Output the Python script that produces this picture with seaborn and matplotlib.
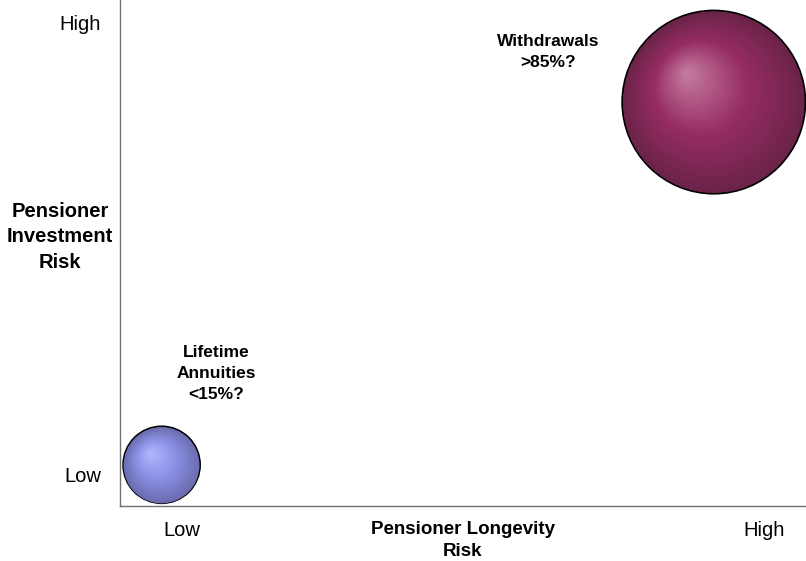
import numpy as np
import pandas as pd
import matplotlib
matplotlib.use("Agg")
import matplotlib.pyplot as plt
from matplotlib.colors import to_rgb
import seaborn as sns

# Retirement income products: longevity risk vs investment risk, bubble = share
products = ["Lifetime\nAnnuities", "Withdrawals"]
share_labels = ["<15%?", ">85%?"]
share = [15, 85]
longevity_risk = [0.72, 8.31]
investment_risk = [1.18, 7.60]
risk_ticks = [1, 9]
risk_tick_labels = ["Low", "High"]

df = pd.DataFrame({"product": products, "share": share,
                   "longevity": longevity_risk, "investment": investment_risk})

# colours: edge, mid ring, highlight
palettes = [
    ["#6a6cae", "#8c90e4", "#b3b7ff"],
    ["#6a2348", "#962c63", "#c47a9f"],
]

sns.set_style("white")
plt.rcParams["font.family"] = ["Liberation Sans", "DejaVu Sans"]
plt.rcParams["text.color"] = "black"
plt.rcParams["axes.labelcolor"] = "black"

DPI = 100
fig = plt.figure(figsize=(8.06, 5.61), dpi=DPI)
ax = fig.add_axes([120 / 806, 55 / 561, 686 / 806, 506 / 561])
ax.set_xlim(0.148, 9.577)
ax.set_ylim(0.451, 9.407)

SIZE_PER_UNIT = 205.0
sns.scatterplot(data=df, x="longevity", y="investment", size="share",
                sizes=(SIZE_PER_UNIT * min(share), SIZE_PER_UNIT * max(share)),
                size_norm=(min(share), max(share)),
                color=palettes[0][0], edgecolor="black", linewidth=1.2,
                legend=False, ax=ax, zorder=3)
# give each bubble its own base colour
coll = ax.collections[0]
coll.set_facecolors([palettes[i][0] for i in range(len(share))])

# pixel scale of the data axes, used to offset the shading highlight
fig.canvas.draw()
px_per_x = ax.transData.transform((1, 0))[0] - ax.transData.transform((0, 0))[0]
px_per_y = ax.transData.transform((0, 1))[1] - ax.transData.transform((0, 0))[1]


def blend(cols, t):
    c0, c1, c2 = [np.array(to_rgb(c)) for c in cols]
    if t < 0.5:
        return c0 + (c1 - c0) * (t / 0.5)
    return c1 + (c2 - c1) * ((t - 0.5) / 0.5)


n_steps = 60
for i, (xv, yv, sv) in enumerate(zip(longevity_risk, investment_risk, share)):
    s_full = SIZE_PER_UNIT * sv
    r_px = np.sqrt(s_full) / 2 * DPI / 72
    hx = -0.30 * r_px / px_per_x
    hy = 0.32 * r_px / px_per_y
    for k in range(1, n_steps):
        t = k / n_steps
        ax.scatter([xv + hx * t], [yv + hy * t], s=s_full * (1 - 0.97 * t) ** 2,
                   color=blend(palettes[i], t), linewidth=0, zorder=4 + k * 0.001)

# bubble captions
offsets = [(39.5, 66), (-119, 36)]
for name, lab, xv, yv, off in zip(products, share_labels, longevity_risk,
                                  investment_risk, offsets):
    ax.annotate(f"{name}\n{lab}", (xv, yv), xytext=off, textcoords="offset points",
                ha="center", va="center", fontsize=12.5, fontweight="bold",
                linespacing=1.5, color="black", zorder=6)

ax.set_xticks(risk_ticks, risk_tick_labels)
ax.set_yticks(risk_ticks, risk_tick_labels)
ax.tick_params(axis="x", length=0, pad=10.5, labelsize=14.5, colors="black")
ax.tick_params(axis="y", length=0, pad=13.5, labelsize=14.5, colors="black")

ax.set_xlabel("Pensioner Longevity\nRisk", fontsize=13.5, fontweight="bold",
              linespacing=1.4, va="top", color="black")
ax.xaxis.set_label_coords(0.5, -0.03)
ax.set_ylabel("Pensioner\nInvestment\nRisk", fontsize=14.5, fontweight="bold",
              rotation=0, ha="center", va="center", linespacing=1.42,
              color="black")
ax.yaxis.set_label_coords(-0.0875, 0.532)

for side in ["top", "right"]:
    ax.spines[side].set_visible(False)
for side in ["left", "bottom"]:
    ax.spines[side].set_color("#707070")
    ax.spines[side].set_linewidth(1.0)

fig.savefig("out.png", dpi=DPI)
